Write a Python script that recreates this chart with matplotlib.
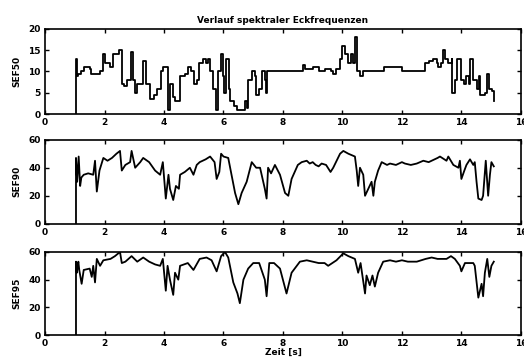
import matplotlib.pyplot as plt

# SEF50 course (Hz) over time (s)
t50 = [1.04, 1.04, 1.06, 1.1, 1.2, 1.3, 1.5, 1.55, 1.75, 1.85, 1.96, 2.0, 2.2, 2.3, 2.47, 2.54, 2.58,
       2.65, 2.75, 2.9, 2.97, 3.03, 3.1, 3.25, 3.3, 3.4, 3.53, 3.65, 3.75, 3.9, 3.96, 4.12, 4.2, 4.3,
       4.37, 4.54, 4.7, 4.82, 4.92, 5.0, 5.1, 5.19, 5.3, 5.4, 5.49, 5.55, 5.66, 5.75, 5.83, 5.92, 5.97,
       6.02, 6.1, 6.17, 6.22, 6.35, 6.44, 6.6, 6.72, 6.78, 6.83, 6.95, 7.06, 7.09, 7.2, 7.28, 7.39,
       7.43, 7.45, 7.6, 8.0, 8.6, 8.66, 8.75, 9.0, 9.2, 9.4, 9.6, 9.69, 9.8, 9.92, 10.0, 10.1, 10.2,
       10.3, 10.36, 10.42, 10.5, 10.59, 10.7, 11.0, 11.3, 11.4, 11.8, 12.0, 12.3, 12.7, 12.77, 12.9,
       13.05, 13.17, 13.22, 13.3, 13.39, 13.45, 13.56, 13.67, 13.7, 13.78, 13.84, 13.95, 14.0, 14.1,
       14.17, 14.26, 14.29, 14.4, 14.53, 14.6, 14.64, 14.79, 14.85, 14.94, 15.04, 15.1]
sef50 = [0, 13, 9, 9.5, 10, 11, 10.5, 9.5, 9.5, 10, 14, 12, 11, 14, 15, 15, 7,
         6.5, 8, 14.5, 8, 5, 7, 7, 12.5, 7, 3.5, 4.5, 6, 10, 11, 1, 7, 4,
         3, 9, 9.5, 11, 10, 7, 8, 12, 13, 12, 13, 10, 6, 1, 10, 14, 9,
         5, 13, 6, 3, 2, 1, 1, 3, 1.5, 8, 10, 9, 4.5, 6, 10, 8,
         5, 10, 10, 10, 10, 11.5, 10.5, 11, 10, 10.5, 10, 9.5, 10.5, 13, 16, 14, 12,
         14, 12, 18, 10, 9, 10, 10, 10, 11, 11, 10, 10, 10, 12, 12.5,
         13, 12, 11, 12, 15, 13, 12, 13, 5, 8, 13, 13, 8, 7,
         9, 7, 13, 8, 6, 9, 4.5, 5, 9.5, 6, 5.5, 3]

# SEF90 course
t90 = [1.04, 1.04, 1.08, 1.13, 1.18, 1.22, 1.3, 1.45, 1.62, 1.68, 1.74, 1.83, 1.96, 2.1, 2.25, 2.4,
       2.52, 2.58, 2.7, 2.86, 2.91, 3.03, 3.2, 3.3, 3.5, 3.7, 3.87, 3.96, 4.06, 4.15, 4.2, 4.31, 4.4,
       4.5, 4.54, 4.7, 4.87, 4.99, 5.1, 5.2, 5.4, 5.55, 5.7, 5.77, 5.86, 5.92, 6.0, 6.16, 6.27, 6.39,
       6.5, 6.61, 6.78, 6.95, 7.1, 7.23, 7.39, 7.45, 7.5, 7.6, 7.73, 7.9, 8.07, 8.18, 8.29, 8.5, 8.63,
       8.8, 8.9, 9.0, 9.1, 9.2, 9.3, 9.45, 9.6, 9.69, 9.92, 10.03, 10.2, 10.42, 10.48, 10.53, 10.59,
       10.7, 10.76, 10.87, 10.98, 11.04, 11.09, 11.2, 11.32, 11.5, 11.6, 11.8, 12.0, 12.1, 12.3, 12.5,
       12.72, 12.9, 13.1, 13.2, 13.28, 13.5, 13.56, 13.73, 13.9, 13.95, 14.0, 14.1, 14.17, 14.29,
       14.4, 14.45, 14.51, 14.57, 14.68, 14.73, 14.82, 14.9, 14.96, 15.01, 15.09]
sef90 = [0, 47, 30, 48, 27, 33, 35, 36, 35, 45, 23, 38, 47, 45, 47, 50,
         52, 38, 42, 44, 52, 40, 44, 47, 44, 38, 35, 44, 18, 35, 25, 17, 27,
         25, 35, 37, 40, 35, 42, 44, 46, 48, 44, 32, 37, 50, 48, 47, 35, 22,
         14, 22, 30, 44, 40, 40, 25, 18, 40, 36, 42, 35, 22, 20, 32, 42, 44,
         45, 43, 44, 42, 41, 43, 42, 37, 40, 50, 52, 50, 48, 38, 27, 40,
         35, 20, 25, 30, 20, 30, 38, 44, 42, 43, 42, 44, 43, 42, 43,
         45, 44, 46, 47, 48, 45, 48, 42, 40, 45, 32, 38, 42, 46,
         42, 44, 30, 18, 17, 20, 45, 20, 35, 44, 41]

# SEF95 course
t95 = [1.04, 1.04, 1.07, 1.1, 1.12, 1.15, 1.23, 1.3, 1.5, 1.57, 1.62, 1.68, 1.74, 1.85, 1.96, 2.2,
       2.35, 2.52, 2.58, 2.7, 2.91, 3.1, 3.3, 3.5, 3.7, 3.87, 3.96, 4.06, 4.12, 4.2, 4.31, 4.37, 4.48,
       4.54, 4.8, 4.99, 5.2, 5.43, 5.6, 5.77, 5.92, 6.05, 6.16, 6.33, 6.47, 6.55, 6.67, 6.83, 7.0,
       7.2, 7.39, 7.45, 7.54, 7.7, 7.9, 8.12, 8.29, 8.57, 8.8, 9.0, 9.2, 9.4, 9.52, 9.8, 10.03, 10.2,
       10.42, 10.53, 10.61, 10.76, 10.81, 10.92, 11.01, 11.09, 11.2, 11.37, 11.6, 11.8, 12.0, 12.2,
       12.5, 12.8, 13.0, 13.2, 13.5, 13.65, 13.78, 13.95, 14.0, 14.12, 14.4, 14.45, 14.57, 14.68,
       14.73, 14.79, 14.87, 14.94, 15.01, 15.09]
sef95 = [0, 53, 45, 50, 53, 47, 37, 47, 48, 42, 50, 38, 55, 50, 54, 55,
         57, 60, 52, 53, 57, 53, 56, 53, 51, 50, 55, 32, 50, 40, 29, 45, 40,
         50, 52, 47, 55, 56, 54, 46, 57, 60, 56, 38, 30, 23, 40, 48, 52,
         52, 40, 28, 52, 52, 48, 30, 45, 53, 54, 53, 52, 52, 50, 54, 59, 57,
         55, 45, 52, 30, 43, 36, 43, 35, 45, 53, 54, 53, 54, 53,
         53, 55, 56, 55, 55, 57, 55, 50, 46, 52, 52, 50, 27, 37,
         28, 45, 55, 42, 50, 53]

plt.rcParams['font.family'] = 'DejaVu Sans'
plt.rcParams['font.weight'] = 'bold'

fig = plt.figure(figsize=(5.24, 3.61), dpi=100)
boxes = [[0.086, 0.684, 0.908, 0.236],
         [0.086, 0.380, 0.908, 0.233],
         [0.086, 0.072, 0.908, 0.230]]
series = [(t50, sef50, 'SEF50', [0, 5, 10, 15, 20], 20, 'steps-post'),
          (t90, sef90, 'SEF90', [0, 20, 40, 60], 60, 'default'),
          (t95, sef95, 'SEF95', [0, 20, 40, 60], 60, 'default')]

axes = []
for box, (t, y, name, yt, ymax, ds) in zip(boxes, series):
    ax = fig.add_axes(box)
    ax.plot(t, y, color='black', lw=1.3, drawstyle=ds)
    ax.set_xlim(0, 16)
    ax.set_ylim(0, ymax)
    ax.set_xticks(range(0, 17, 2))
    ax.set_yticks(yt)
    ax.set_ylabel(name, fontsize=6.5, fontweight='bold', labelpad=5)
    ax.tick_params(direction='in', top=True, right=True, length=3, width=1,
                   labelsize=6.5, pad=3)
    for s in ax.spines.values():
        s.set_linewidth(1.2)
    axes.append(ax)

axes[0].set_title('Verlauf spektraler Eckfrequenzen', fontsize=6.5, fontweight='bold', pad=4)
axes[2].set_xlabel('Zeit [s]', fontsize=6.5, fontweight='bold', labelpad=0)

fig.savefig('out.png', dpi=100)
